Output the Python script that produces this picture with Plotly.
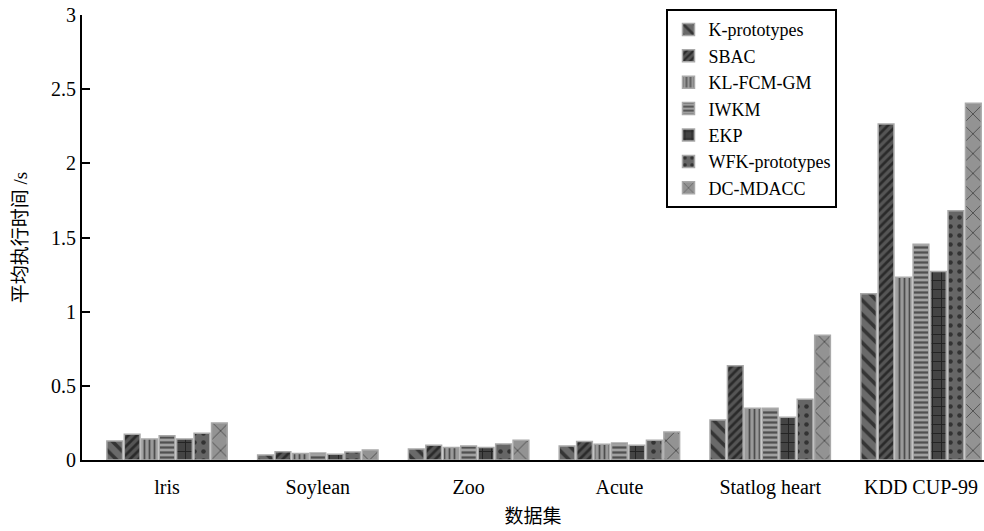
import plotly.graph_objects as go

categories = ["lris", "Soylean", "Zoo", "Acute", "Statlog heart", "KDD CUP-99"]
k_prototypes = [0.128, 0.034, 0.074, 0.094, 0.27, 1.12]
sbac = [0.173, 0.056, 0.099, 0.124, 0.636, 2.266]
kl_fcm_gm = [0.142, 0.043, 0.085, 0.106, 0.349, 1.232]
iwkm = [0.164, 0.047, 0.094, 0.115, 0.349, 1.454]
ekp = [0.142, 0.038, 0.085, 0.099, 0.288, 1.27]
wfk_prototypes = [0.18, 0.054, 0.108, 0.133, 0.409, 1.681]
dc_mdacc = [0.25, 0.067, 0.133, 0.189, 0.841, 2.405]

series = [
    ("K-prototypes", k_prototypes),
    ("SBAC", sbac),
    ("KL-FCM-GM", kl_fcm_gm),
    ("IWKM", iwkm),
    ("EKP", ekp),
    ("WFK-prototypes", wfk_prototypes),
    ("DC-MDACC", dc_mdacc),
]
styles = [
    ("\\", "#6a6a6a", 10, 0.35),
    ("/", "#555555", 6, 0.45),
    ("|", "#9a9a9a", 5, 0.35),
    ("-", "#a0a0a0", 5, 0.45),
    ("+", "#444444", 9, 0.2),
    (".", "#666666", 9, 0.2),
    ("x", "#939393", 14, 0.12),
]

serif = "Liberation Serif, Times New Roman, Noto Sans CJK SC, serif"

fig = go.Figure()
for (name, vals), (shape, bg, size, sol) in zip(series, styles):
    fig.add_trace(go.Bar(
        name=name, x=categories, y=vals,
        marker=dict(
            color=bg,
            line=dict(color="#a9a9a9", width=1.5),
            pattern=dict(shape=shape, fgcolor="black", bgcolor=bg,
                         size=size, solidity=sol, fillmode="overlay"),
        ),
    ))

fig.update_layout(
    width=984, height=531,
    margin=dict(l=82, r=0, t=15, b=71),
    plot_bgcolor="white", paper_bgcolor="white",
    font=dict(family=serif, size=20, color="black"),
    barmode="group", bargap=0.19, bargroupgap=0.1,
    showlegend=True,
    legend=dict(
        x=0.648, y=1.013, xanchor="left", yanchor="top",
        bordercolor="black", borderwidth=2, bgcolor="white",
        font=dict(family=serif, size=18),
        tracegroupgap=0, itemwidth=30,
    ),
    xaxis=dict(
        type="category", range=[-0.564, 5.418],
        showline=True, linecolor="black", linewidth=2,
        ticks="", showgrid=False, ticklabelstandoff=8,
        title=dict(text="数据集", font=dict(family=serif, size=19), standoff=12),
    ),
    yaxis=dict(
        range=[0, 3], tickvals=[0, 0.5, 1, 1.5, 2, 2.5, 3],
        showline=True, linecolor="black", linewidth=2,
        ticks="inside", ticklen=8, tickwidth=2, tickcolor="black",
        showgrid=False, zeroline=False,
        title=dict(text="平均执行时间 /s", font=dict(family=serif, size=19), standoff=18),
    ),
)

fig.write_html("out.html")
